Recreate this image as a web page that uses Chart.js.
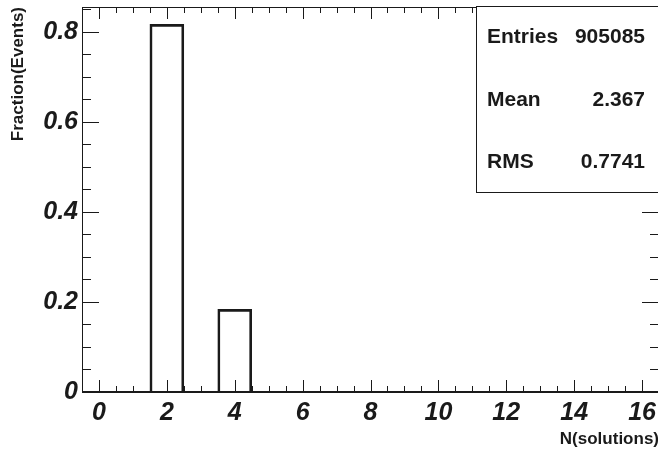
<!doctype html>
<html lang="en">
<head>
	<meta charset="utf-8">
	<title>N(solutions)</title>
	<style>
		body { margin: 0; overflow: hidden; background: #fff; }
		#nSolutionsChart { position: absolute; left: 0; top: 0; }
	</style>
</head>
<body>
	<canvas id="nSolutionsChart" width="660" height="454"></canvas>
	<script src="https://cdn.jsdelivr.net/npm/chart.js@4.4.1/dist/chart.umd.min.js"></script>
	<script>
		// histogram bins (N solutions) and fraction of events per bin
		var nSolutions = [0, 1, 2, 3, 4, 5, 6, 7, 8, 9, 10, 11, 12, 13, 14, 15, 16];
		var fractionEvents = [0, 0, 0.8165, 0, 0.1835, 0, 0, 0, 0, 0, 0, 0, 0, 0, 0, 0, 0];

		var xTickValues = [0, 2, 4, 6, 8, 10, 12, 14, 16];
		var yTickValues = [0, 0.2, 0.4, 0.6, 0.8];

		var statLabels = ["Entries", "Mean", "RMS"];
		var statValues = ["905085", "2.367", "0.7741"];

		var ink = "#1a1a1a";
		var labelFont = "'Liberation Sans', Arial, sans-serif";

		// ROOT style frame, inner ticks on all sides and the stats box
		var rootFrame = {
			id: "rootFrame",
			afterDatasetsDraw: function(chart)
			{
				var ctx = chart.ctx;
				var a = chart.chartArea;
				var xs = chart.scales.x;
				var ys = chart.scales.y;
				var v, px, major;

				ctx.save();
				ctx.strokeStyle = ink;
				ctx.lineWidth = 1;
				ctx.beginPath();

				for (v = 0; v <= 16.5; v += 0.5)
				{
					px = Math.round(xs.getPixelForValue(v)) + 0.5;
					major = (v % 2 === 0);
					ctx.moveTo(px, a.bottom);
					ctx.lineTo(px, a.bottom - (major ? 12 : 6));
					ctx.moveTo(px, a.top);
					ctx.lineTo(px, a.top + (major ? 12 : 6));
				}

				for (v = 0; v <= 0.86; v += 0.05)
				{
					px = Math.round(ys.getPixelForValue(v)) + 0.5;
					major = Math.abs(v / 0.2 - Math.round(v / 0.2)) < 1e-6;
					ctx.moveTo(a.left, px);
					ctx.lineTo(a.left + (major ? 17 : 9), px);
					ctx.moveTo(a.right, px);
					ctx.lineTo(a.right - (major ? 17 : 9), px);
				}
				ctx.stroke();

				ctx.strokeRect(a.left + 0.5, a.top + 0.5, a.right - a.left - 1, a.bottom - a.top);
				ctx.lineWidth = 2;
				ctx.beginPath();
				ctx.moveTo(a.left, a.bottom);
				ctx.lineTo(a.right, a.bottom);
				ctx.stroke();

				// stats box
				var bx = 476.5, by = a.top - 0.5, bw = a.right - bx, bh = 186;
				ctx.fillStyle = "#fff";
				ctx.fillRect(bx, by, bw, bh);
				ctx.lineWidth = 1;
				ctx.strokeRect(bx, by, bw, bh);

				ctx.fillStyle = ink;
				ctx.font = "bold 21px " + labelFont;
				ctx.textBaseline = "middle";
				statLabels.forEach(function(label, i)
				{
					var ty = by + 31 + i * 62.5;
					ctx.textAlign = "left";
					ctx.fillText(label, 487, ty);
					ctx.textAlign = "right";
					ctx.fillText(statValues[i], 645, ty);
				});
				ctx.restore();
			}
		};

		var nSolutionsChart = new Chart(
			"nSolutionsChart",
			{
				type: "bar",
				data: {
					datasets: [
						{
							label: "N(solutions)",
							data: nSolutions.map(function(n, i) { return { x: n, y: fractionEvents[i] }; }),
							backgroundColor: "rgba(255,255,255,0)",
							borderColor: ink,
							borderWidth: 2,
							borderSkipped: "bottom",
							barPercentage: 1,
							categoryPercentage: 1
						}]
				},
				options: {
					responsive: false,
					animation: false,
					layout: { padding: { top: 7, right: 1, left: 0, bottom: 0 } },
					plugins: {
						legend: { display: false },
						tooltip: { enabled: false }
					},
					scales: {
						x: {
							type: "linear",
							offset: false,
							min: -0.5,
							max: 16.5,
							grid: { display: false, drawTicks: false },
							border: { display: false },
							afterBuildTicks: function(scale)
							{
								scale.ticks = xTickValues.map(function(v) { return { value: v }; });
							},
							afterFit: function(scale)
							{
								scale.height = 62;
								scale.paddingLeft = 0;
								scale.paddingRight = 0;
							},
							ticks: {
								color: ink,
								padding: 6,
								maxRotation: 0,
								font: { family: labelFont, size: 25, weight: "bold", style: "italic" }
							},
							title: {
								display: true,
								text: "N(solutions)",
								align: "end",
								color: ink,
								padding: { top: 0, bottom: 4 },
								font: { family: labelFont, size: 17, weight: "bold" }
							}
						},
						y: {
							min: 0,
							max: 0.855,
							grid: { display: false, drawTicks: false },
							border: { display: false },
							afterBuildTicks: function(scale)
							{
								scale.ticks = yTickValues.map(function(v) { return { value: v }; });
							},
							afterFit: function(scale)
							{
								scale.width = 82;
								scale.paddingTop = 0;
								scale.paddingBottom = 0;
							},
							ticks: {
								color: ink,
								padding: 4,
								callback: function(v) { return v === 0 ? "0" : v.toFixed(1); },
								font: { family: labelFont, size: 25, weight: "bold", style: "italic" }
							},
							title: {
								display: true,
								text: "Fraction(Events)",
								align: "end",
								color: ink,
								padding: { top: 8, bottom: 0 },
								font: { family: labelFont, size: 17, weight: "bold" }
							}
						}
					}
				},
				plugins: [rootFrame]
			});
	</script>
</body>
</html>
